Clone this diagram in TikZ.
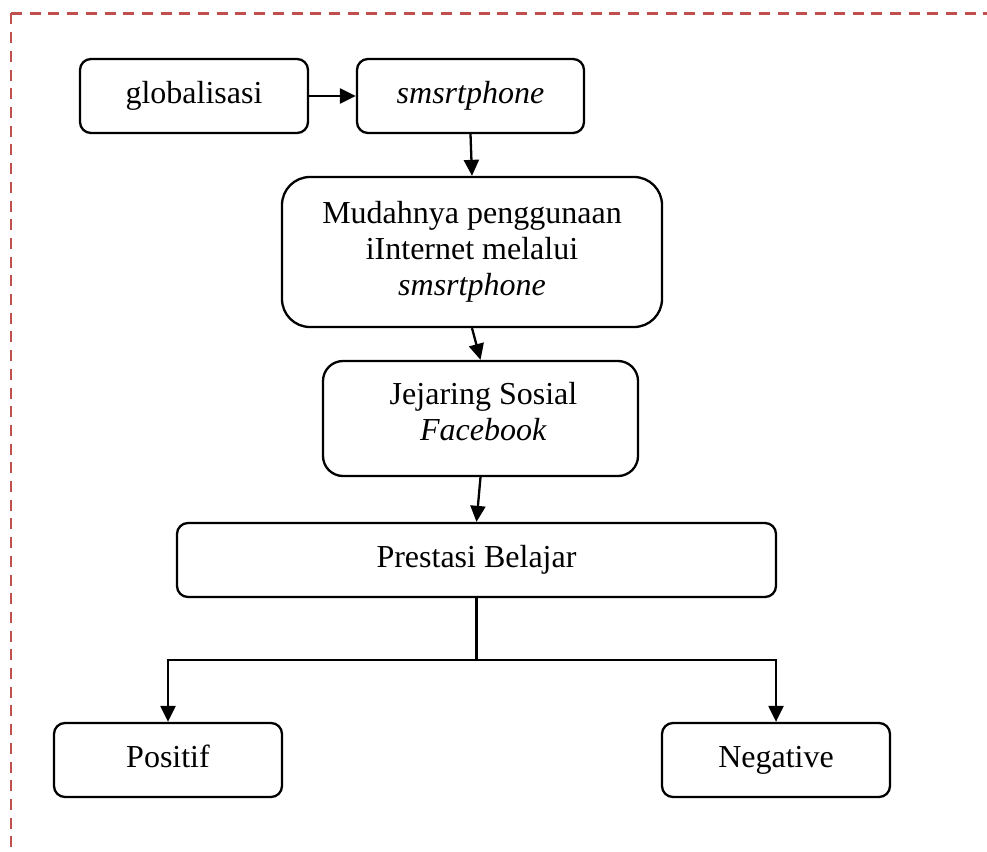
\documentclass[tikz,border=0pt]{standalone}
\usepackage{fontspec}
\setmainfont{Liberation Serif}
\usetikzlibrary{arrows.meta}
\definecolor{dashred}{HTML}{C0504D}
\newcommand{\mystrut}{\rule[-8pt]{0pt}{30pt}}
\begin{document}
\begin{tikzpicture}[x=1pt,y=-1pt,
  box/.style={draw=black, line width=2.3pt, rounded corners=11pt, align=center,
    inner sep=0pt, font=\fontsize{32}{36}\selectfont},
  arr/.style={line width=2.3pt, -{Triangle[length=16pt,width=15pt]}},
  conn/.style={line width=2.3pt}]
\useasboundingbox (0,0) rectangle (987,851);
% dashed frame
\draw[dashred, line width=2.6pt, dash pattern=on 11pt off 7.7pt] (11,13.5) -- (987,13.5);
\draw[dashred, line width=2.6pt, dash pattern=on 11pt off 7.7pt] (11,13.5) -- (11,851);
% nodes
\node[box, minimum width=228pt, minimum height=74pt] (glob) at (194,96) {\mystrut globalisasi};
\node[box, minimum width=227pt, minimum height=74pt] (smart) at (470.5,96) {\mystrut\textit{smsrtphone}};
\node[box, minimum width=380pt, minimum height=150pt, rounded corners=28pt] (mud) at (472,252)
  {\mystrut Mudahnya penggunaan\\\mystrut iInternet melalui\\\mystrut\textit{smsrtphone}};
\node[box, minimum width=315pt, minimum height=115pt, rounded corners=20pt] (jej) at (480.5,418.5)
  {\mystrut\hspace*{6pt}Jejaring Sosial\\\rule[-15pt]{0pt}{30pt}\hspace*{6pt}\textit{Facebook}};
\node[box, minimum width=599pt, minimum height=74pt] (pres) at (476.5,560) {\mystrut Prestasi Belajar};
\node[box, minimum width=228pt, minimum height=74pt] (pos) at (168,760) {\mystrut Positif};
\node[box, minimum width=228pt, minimum height=74pt] (neg) at (776,760) {\mystrut Negative};
\coordinate (split) at (476.5,660);
% connectors
\draw[arr] (glob.east) -- (smart.west);
\draw[arr] (smart.south) -- (mud.north);
\draw[arr] (mud.south) -- (jej.north);
\draw[arr] (jej.south) -- (pres.north);
\draw[conn] (pres.south) -- (split);
\draw[arr] (split) -| (pos.north);
\draw[arr] (split) -| (neg.north);
\end{tikzpicture}
\end{document}
